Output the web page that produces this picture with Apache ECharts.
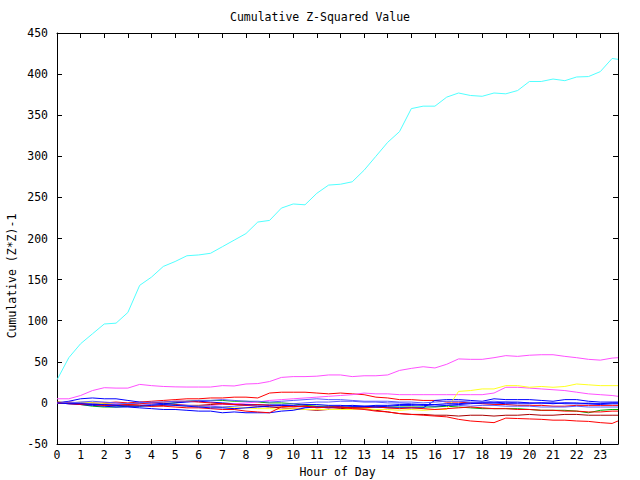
<!DOCTYPE html>
<html>
<head>
<meta charset="utf-8">
<script src="https://cdn.jsdelivr.net/npm/echarts@6/dist/echarts.min.js"></script>
<style>html,body{margin:0;padding:0;background:#fff}#c{width:640px;height:480px}</style>
</head>
<body>
<div id="c"></div>
<script>
// hours of day: half-hour steps plus final 23.75
const hours = [];
for (let i = 0; i < 48; i++) hours.push(i * 0.5);
hours.push(23.75);

const xTicks = [0,1,2,3,4,5,6,7,8,9,10,11,12,13,14,15,16,17,18,19,20,21,22,23];
const yTicks = [-50,0,50,100,150,200,250,300,350,400,450];

const cyan = [28,55,72,84,96,97,110,143,153,166,172,179,180,182,190,198,206,220,222,237,242,241,255,265,266,269,283,300,317,330,358,361,361,372,377,374,373,377,376,380,391,391,394,392,396.5,397,403,419,418];
const magenta = [5,5,9,15,18.5,18,18,22.5,21,20,19.5,19.3,19.3,19.3,21,20.6,23,23.5,26,31,32,32,32.5,34,34,32,33,33,34,39.5,42,44,42.5,47,53.5,53,53,55,57.5,56.6,58,58.6,58.6,56.6,55,53,52,54.5,55];
const pink = [0,0,-1,-1,-2,-1,-2,-3,-2,-3,-2,-3,-4,-3,-2,-1,0,1,3,4,5,6,7,8,9,10,12,11,11,10,10,10,10,10,10,10,10,12,19,19,18,17,16,15,13,11,10,9,8];
const yellow = [0,0,1,0,-1,-2,-2,-3,-3,-2,-3,-4,-4,-5,-5,-6,-6,-7,-7,-8,-7,-8,-8,-8,-8,-8,-7,-8,-8,-9,-8,-9,-8,-8,14,15,17,17,21,21,19,20,19,20,23,22,21,21,21];
const redA = [0,1,0,-1,0,1,0,1,2,3,4,5,5,6,6,7,7,6,12,13,13,13,12,11,12,11,10,7,6,4,4,3,3,1,1,0,-1,-2,-2,-3,-3,-3,-4,-4,-3,-3,-3,-3,-3];
const redB = [1,0,-1,-2,-3,-3,-2,-1,0,1,2,2,1,0,-1,-2,-3,-2,-3,-4,-5,-4,-5,-6,-5,-6,-6,-5,-6,-7,-6,-7,-8,-7,-6,-5,-6,-7,-7,-8,-8,-9,-9,-10,-10,-11,-11,-10,-10];
const redC = [0,-1,-2,-2,-3,-3,-2,-3,-4,-4,-5,-6,-6,-7,-8,-8,-10,-11,-12,-5,-4,-4,-6,-5,-5,-7,-8,-10,-11,-13,-14,-15,-16,-17,-20,-22,-23,-24,-18.5,-19,-19.5,-20,-21,-21,-22,-22.5,-24,-25,-22];
const darkRed = [0,0,-1,0,-1,-2,-3,-3,-4,-3,-2,-3,-3,-2,-1,-2,-3,-4,-5,-6,-7,-8,-9,-8,-7,-6,-7,-9,-11,-13,-14,-14,-15,-15,-16,-15,-15,-16,-15,-15,-14,-15,-15,-14,-14,-15,-15,-15,-15];
const green = [1,0,-2,-4,-5,-5,-4,-4,-3,-1,0,2,3,3,3,2,2,1,0,0,-1,-3,-4,-4,-5,-5,-5,-4,-5,-5,-5,-5,-5,-4,-5,-6,-7,-7,-7,-7,-8,-9,-9,-9,-10,-12,-9,-8,-8];
const blueA = [0,2,5,6,5,5,3,1,0,-1,0,1,2,1,0,-1,-2,-2,-3,-3,-4,-5,-5,-5,-6,-5,-5,-5,-6,-6,-6,-6,3,4,4,3,2,5,4,4,4,3,2,4,4,2,1,1,1];
const blueB = [0,-1,-2,-3,-4,-5,-5,-6,-7,-8,-8,-9,-10,-10,-12,-11,-12,-12,-12,-10,-9,-6,-5,-6,-4,-3,-4,-5,-4,-3,-3,-2,-2,-1,-1,0,0,0,-1,-1,-1,0,0,-1,-1,-1,-2,-1,-1];
const blueC = [0,0,1,2,1,0,-1,-1,-2,-2,-3,-3,-4,-4,-5,-4,-3,-3,-2,-2,-1,0,1,1,2,2,1,1,0,0,-1,-2,-2,-3,-3,-4,-3,-3,-4,-4,-4,-5,-5,-5,-4,-5,-5,-5,-5];
const blueD = [0,1,0,-1,-2,-2,-1,0,1,1,2,2,3,3,4,3,2,2,1,2,3,4,5,4,4,3,2,2,2,1,1,0,1,2,2,1,1,2,1,0,0,-1,0,0,-1,0,-1,-1,-1];
const blueE = [0,-1,-1,-2,-2,-3,-4,-4,-3,-2,-3,-4,-5,-6,-6,-7,-6,-5,-4,-3,-3,-2,-2,-3,-3,-4,-4,-3,-3,-2,-2,-3,-4,-3,-2,-1,0,0,1,1,0,0,-1,0,0,-1,-1,0,0];

const seriesDefs = [
  ['redA', redA, '#ff0000'],
  ['green', green, '#00b000'],
  ['blueA', blueA, '#0000ff'],
  ['pink', pink, '#ff50ff'],
  ['darkRed', darkRed, '#a80000'],
  ['yellow', yellow, '#ffff20'],
  ['blueC', blueC, '#5c5cff'],
  ['redB', redB, '#ff0000'],
  ['blueB', blueB, '#0000ff'],
  ['blueD', blueD, '#5c5cff'],
  ['redC', redC, '#ff0000'],
  ['blueE', blueE, '#0000ff'],
  ['magenta', magenta, '#ff50ff'],
  ['cyan', cyan, '#50ffff']
];

const FONT = 'DejaVu Sans Mono';
function axisBase() {
  return {
    type: 'value',
    axisLine: { show: true, onZero: false, lineStyle: { color: '#000', width: 1 } },
    axisTick: { show: true, inside: true, length: 5, lineStyle: { color: '#000', width: 1 } },
    splitLine: { show: false }
  };
}

const chart = echarts.init(document.getElementById('c'), null, { renderer: 'svg' });
chart.setOption({
  animation: false,
  backgroundColor: '#fff',
  title: {
    text: 'Cumulative Z-Squared Value',
    left: 'center', top: 6,
    textStyle: { fontFamily: FONT, fontSize: 11.5, fontWeight: 'normal', color: '#000' }
  },
  grid: { left: 57, right: 22, top: 33, bottom: 36, containLabel: false, outerBoundsMode: 'none' },
  xAxis: [
    Object.assign(axisBase(), {
      position: 'bottom', min: 0, max: 23.75, interval: 1,
      axisLabel: {
        color: '#000', fontFamily: FONT, fontSize: 11.5, margin: 5,
        showMaxLabel: false,
        formatter: v => xTicks.indexOf(v) >= 0 ? String(v) : ''
      },
      name: 'Hour of Day', nameLocation: 'middle', nameGap: 21,
      nameTextStyle: { color: '#000', fontFamily: FONT, fontSize: 11.5 }
    }),
    Object.assign(axisBase(), {
      position: 'top', min: 0, max: 23.75, interval: 1,
      axisLabel: { show: false }
    })
  ],
  yAxis: [
    Object.assign(axisBase(), {
      position: 'left', min: yTicks[0], max: yTicks[yTicks.length - 1], interval: 50,
      axisLabel: { color: '#000', fontFamily: FONT, fontSize: 11.5, margin: 9 }
    }),
    Object.assign(axisBase(), {
      position: 'right', min: yTicks[0], max: yTicks[yTicks.length - 1], interval: 50,
      axisLabel: { show: false }
    })
  ],
  graphic: [{
    type: 'text',
    x: 12, y: 276,
    rotation: Math.PI / 2,
    style: {
      text: 'Cumulative (Z*Z)-1',
      fill: '#000', fontFamily: FONT, fontSize: 11.5,
      align: 'center', verticalAlign: 'middle'
    }
  }],
  series: seriesDefs.map(([name, vals, color]) => ({
    name: name,
    type: 'line',
    xAxisIndex: 0, yAxisIndex: 0,
    showSymbol: false,
    symbol: 'none',
    data: hours.map((h, i) => [h, vals[i]]),
    lineStyle: { color: color, width: 1 },
    itemStyle: { color: color },
    emphasis: { disabled: true }
  }))
});
</script>
</body>
</html>
